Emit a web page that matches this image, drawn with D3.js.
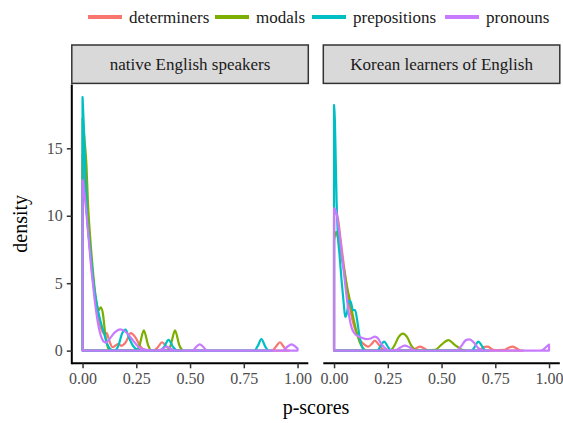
<!DOCTYPE html>
<html>
<head>
<meta charset="utf-8">
<script src="https://cdn.jsdelivr.net/npm/d3@7"></script>
<style>
  body { margin: 0; background: #fff; }
  svg text { font-family: "Liberation Serif", "DejaVu Serif", serif !important; }
</style>
</head>
<body>
<svg id="chart" width="563" height="423" font-family="Liberation Serif, serif"></svg>
<script>
// categories and facets
const groups = ["determiners", "modals", "prepositions", "pronouns"]
const facets = ["native English speakers", "Korean learners of English"]
const colors = ["#F8766D", "#7CAE00", "#00BFC4", "#C77CFF"]

const xTicks = [0, 0.25, 0.5, 0.75, 1]
const xTickLabels = ["0.00", "0.25", "0.50", "0.75", "1.00"]
const yTicks = [0, 5, 10, 15]

// density curves: [p-score, density]
const nativeDeterminers = [[0,14.5],[0.01,12.5],[0.02,10.2],[0.03,8.3],[0.04,6.5],[0.05,5.0],[0.06,3.8],[0.07,2.8],[0.08,2.0],[0.09,1.5],[0.1,1.25],[0.112,1.3],[0.125,0.7],[0.14,0.25],[0.155,0.4],[0.168,0.5],[0.18,0.35],[0.2,0.6],[0.225,1.3],[0.245,1.0],[0.27,0.3],[0.29,0.05],[0.33,0],[0.35,0.25],[0.37,0.62],[0.39,0.3],[0.41,0.05],[0.43,0],[0.88,0],[0.9,0.3],[0.918,0.62],[0.935,0.3],[0.95,0.02],[0.96,0]]
const nativeModals = [[0,17.2],[0.005,16.5],[0.01,15.5],[0.018,13.8],[0.025,11],[0.035,8.5],[0.045,6.5],[0.055,4.8],[0.065,3.6],[0.075,3.0],[0.085,3.2],[0.095,2.7],[0.105,1.3],[0.115,0.4],[0.125,0.05],[0.14,0],[0.25,0],[0.265,0.4],[0.285,1.5],[0.305,0.4],[0.32,0],[0.395,0],[0.41,0.4],[0.43,1.5],[0.45,0.4],[0.465,0]]
const nativePrepositions = [[0,18.8],[0.005,17],[0.01,14.5],[0.015,12.2],[0.022,9.7],[0.03,8.3],[0.04,6.8],[0.05,5.2],[0.06,4.0],[0.07,3.1],[0.08,2.4],[0.09,1.8],[0.1,1.3],[0.11,0.7],[0.12,0.3],[0.135,0.05],[0.15,0],[0.165,0.3],[0.185,1.3],[0.2,1.55],[0.215,1.0],[0.235,0.35],[0.26,0.05],[0.3,0],[0.36,0],[0.38,0.3],[0.4,0.8],[0.42,0.3],[0.44,0],[0.8,0],[0.815,0.35],[0.832,0.85],[0.85,0.3],[0.865,0],[0.88,0]]
const nativePronouns = [[0,12.65],[0.01,11.5],[0.02,9.8],[0.03,8.0],[0.04,6.2],[0.05,4.7],[0.06,3.3],[0.07,2.2],[0.08,1.4],[0.09,0.9],[0.1,0.65],[0.11,0.6],[0.125,0.85],[0.15,1.35],[0.175,1.58],[0.2,1.4],[0.225,0.95],[0.25,0.45],[0.27,0.15],[0.3,0.05],[0.33,0],[0.37,0.1],[0.39,0.3],[0.41,0.15],[0.43,0],[0.51,0],[0.53,0.3],[0.545,0.47],[0.56,0.3],[0.58,0],[0.93,0],[0.95,0.25],[0.972,0.47],[0.99,0.3],[1.0,0.15]]

const koreanDeterminers = [[0,10.0],[0.008,10.3],[0.02,9.6],[0.03,8.3],[0.04,7.0],[0.05,5.8],[0.06,4.6],[0.07,3.6],[0.08,2.7],[0.09,2.0],[0.1,1.5],[0.11,1.1],[0.12,0.8],[0.13,0.6],[0.145,0.4],[0.16,0.3],[0.175,0.5],[0.19,0.74],[0.205,0.5],[0.22,0.2],[0.24,0.02],[0.36,0],[0.38,0.15],[0.4,0.3],[0.42,0.15],[0.44,0],[0.66,0],[0.68,0.1],[0.7,0.28],[0.715,0.3],[0.73,0.15],[0.75,0.03],[0.79,0.05],[0.81,0.2],[0.83,0.3],[0.85,0.15],[0.87,0],[0.88,0]]
const koreanModals = [[0,8.2],[0.01,8.8],[0.02,8.2],[0.03,7.4],[0.04,6.5],[0.05,5.7],[0.06,4.8],[0.07,4.0],[0.08,3.2],[0.09,2.4],[0.1,1.7],[0.11,1.1],[0.12,0.6],[0.13,0.3],[0.14,0.1],[0.155,0],[0.26,0],[0.28,0.35],[0.3,1.0],[0.32,1.26],[0.34,1.0],[0.36,0.35],[0.38,0.05],[0.4,0],[0.47,0.05],[0.5,0.45],[0.532,0.78],[0.56,0.45],[0.59,0.1],[0.61,0]]
const koreanPrepositions = [[0,18.2],[0.004,17],[0.008,14],[0.012,11],[0.018,8.5],[0.025,7.2],[0.035,5.2],[0.045,3.5],[0.052,2.5],[0.06,2.8],[0.07,3.7],[0.078,3.6],[0.088,3.0],[0.098,3.0],[0.108,2.2],[0.118,1.1],[0.128,0.4],[0.14,0.05],[0.155,0],[0.2,0],[0.215,0.3],[0.233,0.67],[0.25,0.3],[0.265,0],[0.64,0],[0.655,0.3],[0.671,0.67],[0.69,0.3],[0.705,0],[0.72,0]]
const koreanPronouns = [[0,10.55],[0.008,10.4],[0.02,9.3],[0.03,8.0],[0.04,6.6],[0.05,5.2],[0.06,3.8],[0.07,2.6],[0.08,1.8],[0.09,1.4],[0.1,1.2],[0.115,1.05],[0.13,0.95],[0.15,0.85],[0.17,0.9],[0.19,1.04],[0.205,0.9],[0.22,0.5],[0.24,0.15],[0.26,0.02],[0.29,0.05],[0.31,0.25],[0.33,0.37],[0.35,0.25],[0.37,0.05],[0.39,0],[0.57,0],[0.59,0.3],[0.615,0.8],[0.63,0.84],[0.65,0.6],[0.67,0.2],[0.69,0.02],[0.72,0],[0.95,0],[0.97,0.05],[0.985,0.25],[1.0,0.45]]

const panelSeries = [
    [nativeDeterminers, nativeModals, nativePrepositions, nativePronouns],
    [koreanDeterminers, koreanModals, koreanPrepositions, koreanPronouns]
]

const serif = "Liberation Serif, serif"
const svg = d3.select("#chart")

const panelLeft = [71.8, 323.3]
const panelWidth = 236.5
const panelTop = 84.4
const panelBottom = 363.3
const stripTop = 45

let y = d3.scaleLinear()
    .domain([-0.94, 19.74])
    .range([panelBottom, panelTop])

for (let p = 0; p < facets.length; p++) {
    let x = d3.scaleLinear()
        .domain([-0.05, 1.05])
        .range([panelLeft[p], panelLeft[p] + panelWidth])

    let g = svg.append("g")

    // outline of each density, like geom_density with no fill
    let area = d3.area()
        .x(d => x(d[0]))
        .y0(y(0))
        .y1(d => y(d[1]))
        .curve(d3.curveMonotoneX)

    panelSeries[p].forEach((s, i) => {
        g.append("path")
            .attr("d", area(s))
            .attr("fill", "none")
            .attr("stroke", colors[i])
            .attr("stroke-width", 2.2)
            .attr("stroke-linejoin", "round")
    })

    // strip
    g.append("rect")
        .attr("x", panelLeft[p])
        .attr("y", stripTop)
        .attr("width", panelWidth)
        .attr("height", panelTop - stripTop - 1)
        .attr("fill", "#D9D9D9")
        .attr("stroke", "#333333")
        .attr("stroke-width", 1.5)

    g.append("text")
        .attr("x", panelLeft[p] + panelWidth / 2)
        .attr("y", (stripTop + panelTop) / 2 + 5.5)
        .attr("text-anchor", "middle")
        .attr("font-family", serif)
        .attr("font-size", 17)
        .attr("fill", "#1A1A1A")
        .text(facets[p])

    // x axis
    let xAxis = d3.axisBottom(x)
        .tickValues(xTicks)
        .tickFormat((d, i) => xTickLabels[i])
        .tickSize(5)
        .tickPadding(4)

    let xg = g.append("g")
        .attr("transform", `translate(0,${panelBottom})`)
        .call(xAxis)
        .attr("font-family", serif)
    xg.select(".domain")
        .attr("d", `M${panelLeft[p]},0H${panelLeft[p] + panelWidth}`)
        .attr("stroke", "#000")
        .attr("stroke-width", 2)
    xg.selectAll(".tick line").attr("stroke", "#333").attr("stroke-width", 1.5)
    xg.selectAll(".tick text")
        .attr("font-family", serif)
        .attr("font-size", 16)
        .attr("fill", "#4D4D4D")

    if (p === 0) {
        let yAxis = d3.axisLeft(y)
            .tickValues(yTicks)
            .tickSize(5)
            .tickPadding(4)
        let yg = g.append("g")
            .attr("transform", `translate(${panelLeft[p]},0)`)
            .call(yAxis)
            .attr("font-family", serif)
        yg.select(".domain")
            .attr("d", `M0,${panelTop}V${panelBottom + 1}`)
            .attr("stroke", "#000")
            .attr("stroke-width", 2)
        yg.selectAll(".tick line").attr("stroke", "#333").attr("stroke-width", 1.5)
        yg.selectAll(".tick text")
            .attr("font-family", serif)
            .attr("font-size", 16)
            .attr("fill", "#4D4D4D")
    }
}

// axis titles
svg.append("text")
    .attr("x", 316)
    .attr("y", 414)
    .attr("text-anchor", "middle")
    .attr("font-family", serif)
    .attr("font-size", 20)
    .text("p-scores")

svg.append("text")
    .attr("transform", `translate(27,${(panelTop + panelBottom) / 2}) rotate(-90)`)
    .attr("text-anchor", "middle")
    .attr("font-family", serif)
    .attr("font-size", 20)
    .text("density")

// legend
const legendX = [88, 215, 312, 445]
let legend = svg.append("g")
groups.forEach((name, i) => {
    legend.append("line")
        .attr("x1", legendX[i])
        .attr("x2", legendX[i] + 34)
        .attr("y1", 17)
        .attr("y2", 17)
        .attr("stroke", colors[i])
        .attr("stroke-width", 4)
    legend.append("text")
        .attr("x", legendX[i] + 41)
        .attr("y", 23)
        .attr("font-family", serif)
        .attr("font-size", 17)
        .attr("fill", "#1A1A1A")
        .text(name)
})
</script>
</body>
</html>
